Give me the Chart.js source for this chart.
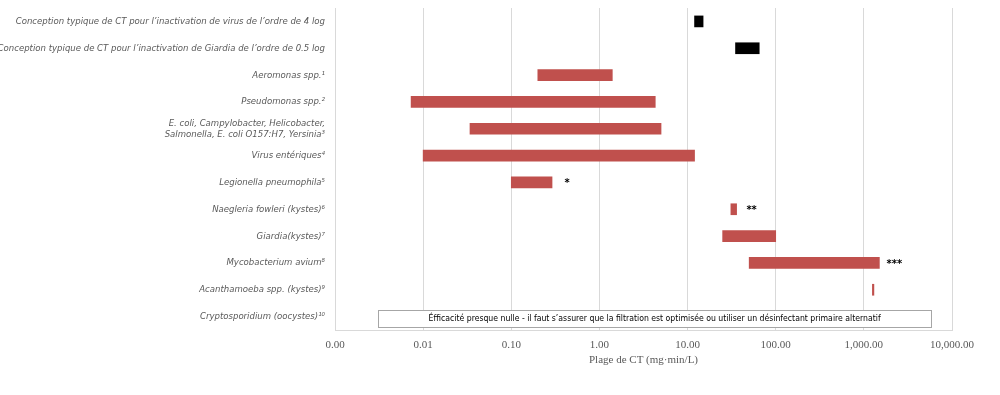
<!DOCTYPE html>
<html>
<head>
<meta charset="utf-8">
<script src="https://cdn.jsdelivr.net/npm/chart.js@4"></script>
<style>
  html, body { margin: 0; padding: 0; background: #fff; }
  #chart-area { width: 1000px; height: 395px; }
</style>
</head>
<body>
<div id="chart-area"><canvas id="chart"></canvas></div>
<script>
'use strict';

const categories = [
    'Conception typique de CT pour l’inactivation de virus de l’ordre de 4 log',
    'Conception typique de CT pour l’inactivation de Giardia de l’ordre de 0.5 log',
    'Aeromonas spp.¹',
    'Pseudomonas spp.²',
    ['E. coli, Campylobacter, Helicobacter,', 'Salmonella, E. coli O157:H7, Yersinia³'],
    'Virus entériques⁴',
    'Legionella pneumophila⁵',
    'Naegleria fowleri (kystes)⁶',
    'Giardia(kystes)⁷',
    'Mycobacterium avium⁸',
    'Acanthamoeba spp. (kystes)⁹',
    'Cryptosporidium (oocystes)¹⁰'
];

// conception typique (barres noires)
const designLow  = [12, 35, null, null, null, null, null, null, null, null, null, null];
const designHigh = [15, 65, null, null, null, null, null, null, null, null, null, null];

// plage de CT par pathogène (barres rouges)
const rangeLow  = [null, null, 0.2, 0.0073, 0.034, 0.01, 0.1, 31, 25, 50, 1250, null];
const rangeHigh = [null, null, 1.4, 4.3, 5, 12, 0.29, 36, 100, 1500, 1300, null];

const notes = ['', '', '', '', '', '', '*', '**', '', '***', '', ''];
const boxNote = 'Éfficacité presque nulle - il faut s’assurer que la filtration est optimisée ou utiliser un désinfectant primaire alternatif';
const boxRow = 11;

const tickValues = [0.001, 0.01, 0.1, 1, 10, 100, 1000, 10000];

const toRange = (low, high) => low.map((v, i) => v === null ? null : [v, high[i]]);

const labelFont = "'Liberation Sans Narrow', 'DejaVu Sans Condensed', 'Lato', sans-serif";
const serifFont = "'Liberation Serif', 'DejaVu Serif', serif";

const notesPlugin = {
    id: 'notes',
    afterDatasetsDraw: (chart) => {
        const ctx = chart.ctx;
        const x = chart.scales.x;
        const y = chart.scales.y;
        ctx.save();
        // astérisques après les barres
        ctx.fillStyle = '#000';
        ctx.font = `bold 11px ${labelFont}`;
        ctx.textAlign = 'center';
        ctx.textBaseline = 'middle';
        notes.forEach((n, i) => {
            if (!n || rangeHigh[i] === null) return;
            ctx.fillText(n, x.getPixelForValue(rangeHigh[i]) + 15, y.getPixelForValue(i) + 1);
        });
        // encadré Cryptosporidium
        ctx.font = `9px ${labelFont}`;
        const tw = Math.min(ctx.measureText(boxNote).width, 452);
        const area = chart.chartArea;
        const cx = area.left + (area.right - area.left) * 0.518;
        const cy = y.getPixelForValue(boxRow) + 2;
        const bw = Math.round(tw + 101);
        const bh = 17;
        const bx = Math.round(cx - bw / 2) + 0.5;
        const by = Math.round(cy - bh / 2) + 0.5;
        ctx.fillStyle = '#fff';
        ctx.fillRect(bx, by, bw, bh);
        ctx.strokeStyle = '#a6a6a6';
        ctx.lineWidth = 1;
        ctx.strokeRect(bx, by, bw, bh);
        ctx.fillStyle = '#000';
        ctx.fillText(boxNote, cx, cy + 0.5, 452);
        ctx.restore();
    }
};

const data = {
    labels: categories,
    datasets: [{
        label: 'Conception typique',
        data: toRange(designLow, designHigh),
        backgroundColor: '#000000',
        grouped: false,
        barThickness: 11
    }, {
        label: 'Plage de CT',
        data: toRange(rangeLow, rangeHigh),
        backgroundColor: '#C0504D',
        grouped: false,
        barThickness: 11
    }]
};

const options = {
    indexAxis: 'y',
    responsive: true,
    maintainAspectRatio: false,
    animation: false,
    layout: {
        padding: { top: 8, right: 48, bottom: 28, left: 0 }
    },
    scales: {
        x: {
            type: 'logarithmic',
            min: 0.001,
            max: 10000,
            afterBuildTicks: (axis) => {
                axis.ticks = tickValues.map(v => ({ value: v }));
            },
            afterFit: (axis) => { axis.height = 37; },
            grid: { color: '#d9d9d9', drawTicks: false },
            border: { color: '#d9d9d9' },
            ticks: {
                padding: 9,
                color: '#595959',
                font: { family: serifFont, size: 11 },
                maxRotation: 0,
                autoSkip: false,
                callback: (v) => Number(v).toLocaleString('en-US', { minimumFractionDigits: 2, maximumFractionDigits: 2 })
            },
            title: {
                display: true,
                text: 'Plage de CT (mg·min/L)',
                color: '#595959',
                font: { family: serifFont, size: 11 },
                padding: { top: 0, bottom: 0 }
            }
        },
        y: {
            afterFit: (axis) => {
                axis.width = 335;
                axis.paddingTop = 0;
                axis.paddingBottom = 0;
            },
            grid: { display: false, drawTicks: false },
            border: { display: false },
            ticks: {
                padding: 10,
                autoSkip: false,
                color: '#595959',
                font: { family: labelFont, size: 9.5, style: 'italic' }
            }
        }
    },
    plugins: {
        legend: { display: false },
        tooltip: { enabled: false }
    }
};

new Chart(document.getElementById('chart'), {
    type: 'bar',
    data: data,
    options: options,
    plugins: [notesPlugin]
});
</script>
</body>
</html>
